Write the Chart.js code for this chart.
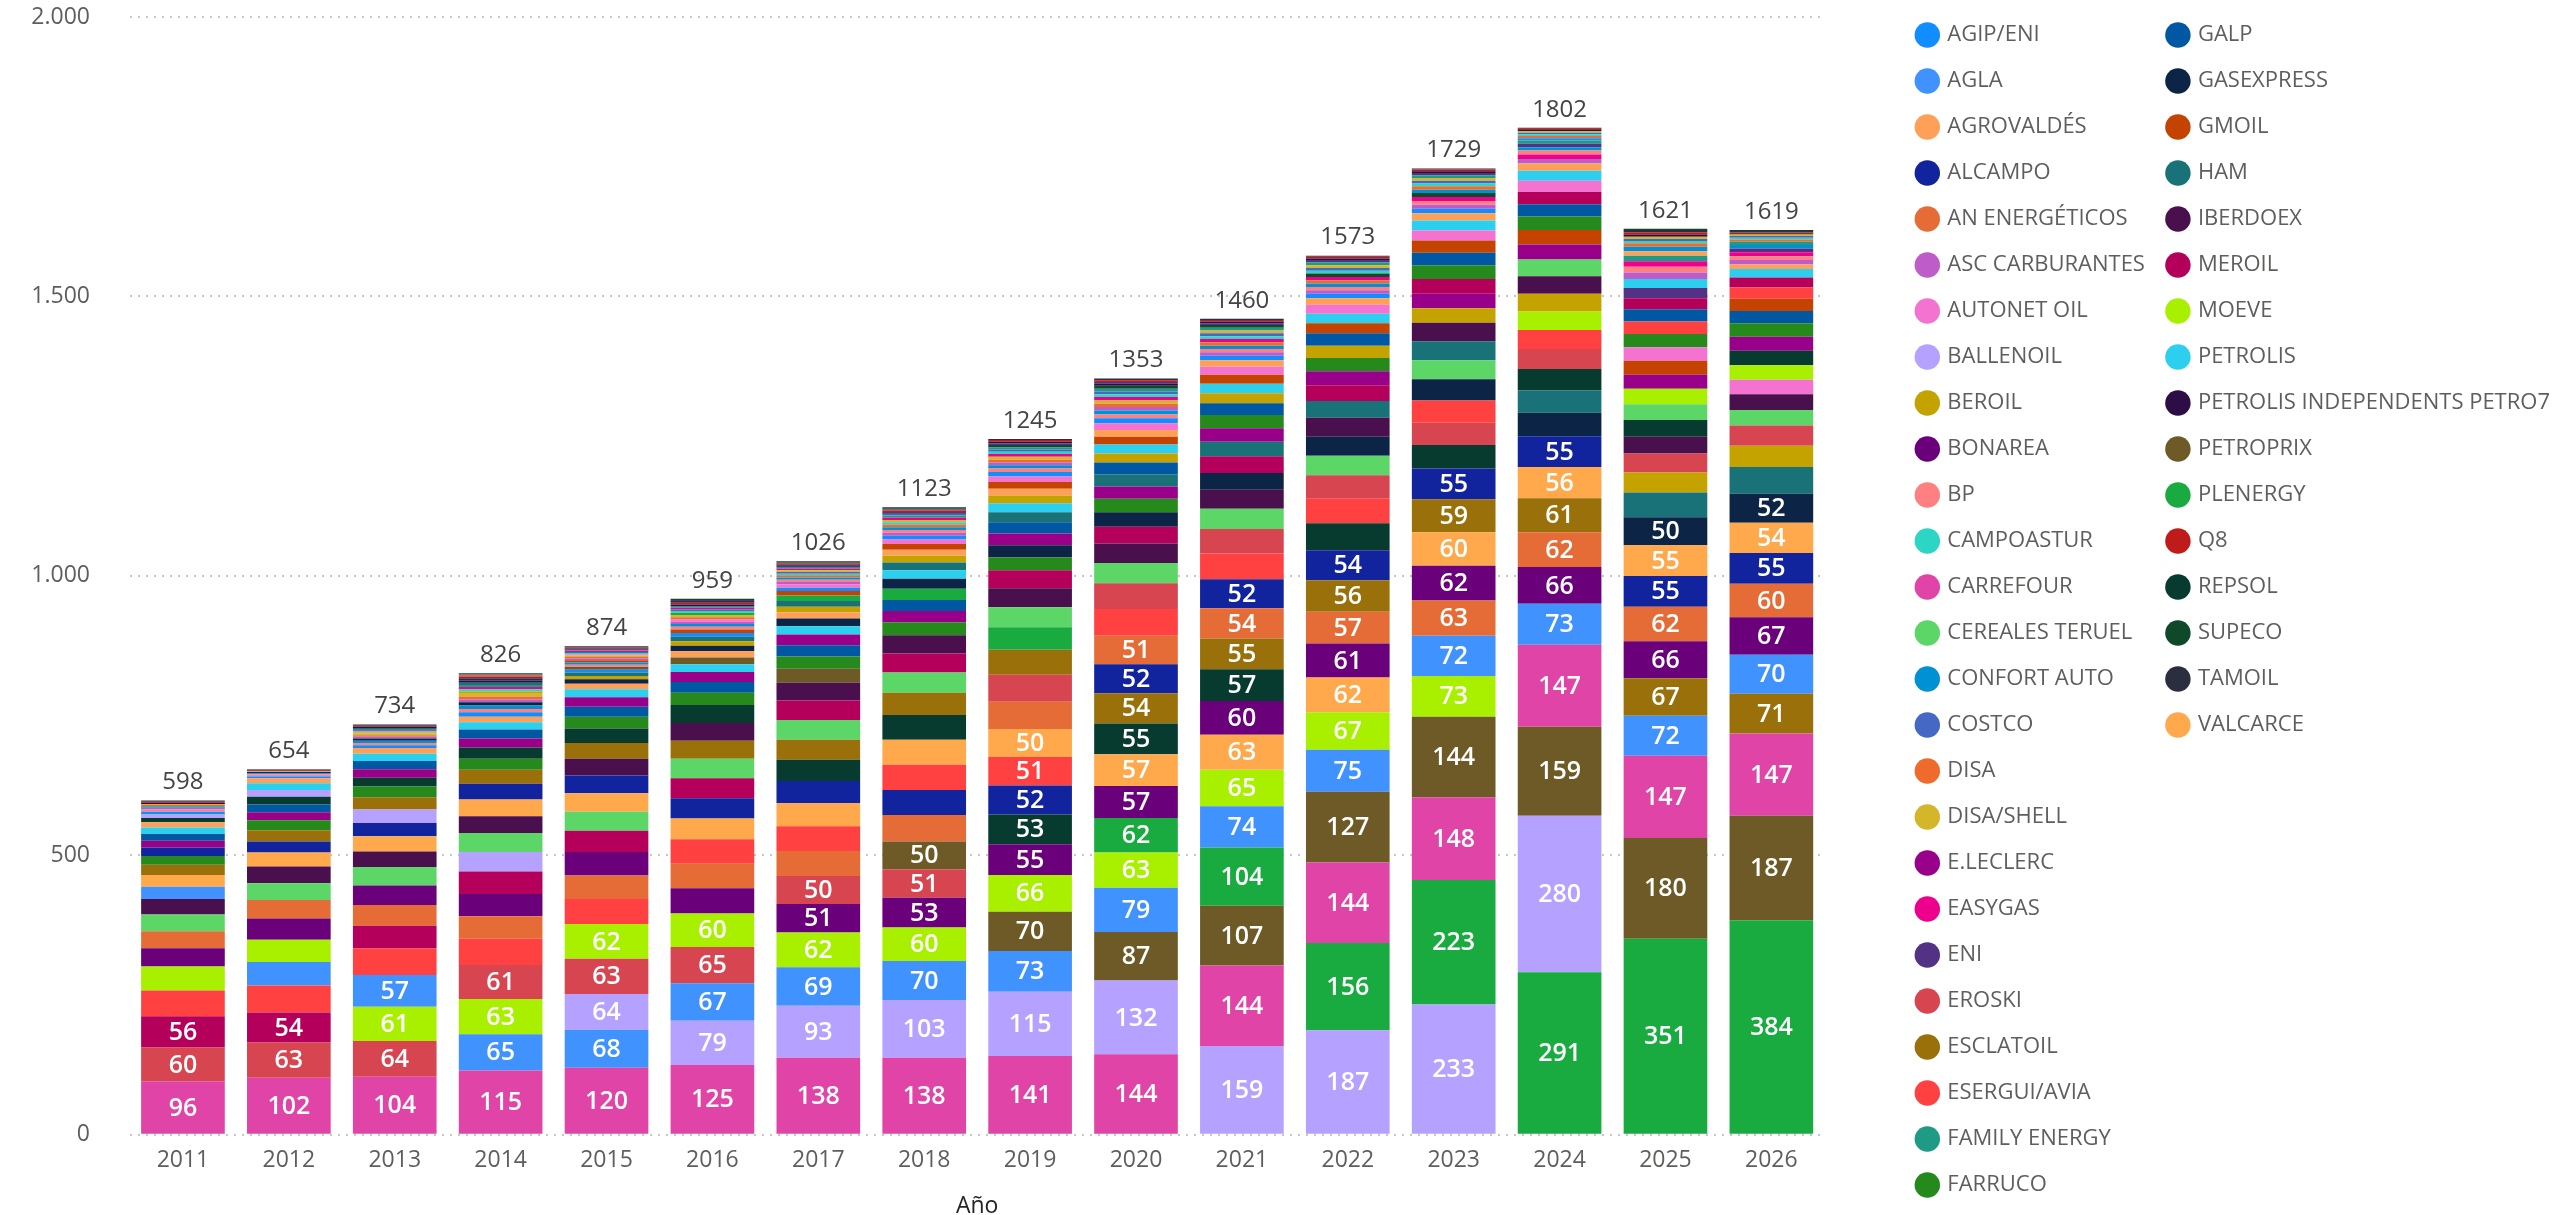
<!DOCTYPE html>
<html>
<head>
<meta charset="utf-8">
<script src="https://cdn.jsdelivr.net/npm/chart.js@4"></script>
<style>
  html, body { margin: 0; padding: 0; background: #fff; overflow: hidden; }
</style>
</head>
<body>
<canvas id="chart" width="2560" height="1250"></canvas>
<script>
"use strict";
const years = ['2011','2012','2013','2014','2015','2016','2017','2018','2019','2020','2021','2022','2023','2024','2025','2026'];

const brands = ['AGIP/ENI','AGLA','AGROVALDÉS','ALCAMPO','AN ENERGÉTICOS','ASC CARBURANTES','AUTONET OIL','BALLENOIL','BEROIL','BONAREA','BP','CAMPOASTUR','CARREFOUR','CEREALES TERUEL','CONFORT AUTO','COSTCO','DISA','DISA/SHELL','E.LECLERC','EASYGAS','ENI','EROSKI','ESCLATOIL','ESERGUI/AVIA','FAMILY ENERGY','FARRUCO','GALP','GASEXPRESS','GMOIL','HAM','IBERDOEX','MEROIL','MOEVE','PETROLIS','PETROLIS INDEPENDENTS PETRO7','PETROPRIX','PLENERGY','Q8','REPSOL','SUPECO','TAMOIL','VALCARCE'];

const brandColors = ['#118DFF','#4092FF','#FFA058','#12239E','#E66C37','#BE5DC9','#F472D0','#B5A1FF','#C4A200','#6B007B','#FF8080','#2CD5C4','#E044A7','#5BD667','#0091D5','#4668C5','#EF6B2B','#D4B62A','#99008A','#EC008C','#533285','#D64550','#99700A','#FF4141','#1F9A85','#25891C','#0057A2','#0C2445','#C44300','#197278','#4A0F4D','#B4005A','#A8F000','#2DCFEF','#2C0D46','#6E5A26','#1AAB40','#C01B1B','#073B30','#0E4A2A','#2A2E3F','#FFA84C'];

// stations per brand and year (2011..2026)
const agipEni        = [5,3,5,8,5,7,6,7,8,9,8,8,8,4,0,0];
const agla           = [22,42,57,65,68,67,69,70,73,79,74,75,72,73,72,70];
const agrovaldes     = [9,9,10,10,10,11,11,11,12,12,12,12,13,13,8,8];
const alcampo        = [15,20,24,28,32,36,40,45,52,52,52,54,55,55,55,55];
const anEnergeticos  = [30,33,37,40,42,44,45,47,49,51,54,57,63,62,62,60];
const ascCarburantes = [3,2,3,5,3,4,4,5,5,6,6,6,7,8,12,8];
const autonetOil     = [0,0,0,0,2,4,6,8,10,12,14,16,18,20,24,26];
const ballenoil      = [6,12,24,35,64,79,93,103,115,132,159,187,233,280,0,0];
const beroil         = [0,0,2,4,6,8,10,12,14,16,18,22,26,32,36,38];
const bonarea        = [33,38,35,40,42,45,51,53,55,57,60,61,62,66,66,67];
const bp             = [4,2,4,6,4,5,4,5,6,7,6,6,7,7,10,7];
const campoastur     = [0,0,2,4,2,3,3,4,4,5,5,5,5,3,4,3];
const carrefour      = [96,102,104,115,120,125,138,138,141,144,144,144,148,147,147,147];
const cerealesTeruel = [30,30,33,34,34,35,35,36,36,36,36,35,34,30,28,28];
const confortAuto    = [3,2,4,6,4,5,4,5,6,7,6,6,6,6,8,6];
const costco         = [0,0,0,2,2,3,3,3,4,5,5,5,5,3,4,3];
const disa           = [2,1,3,5,3,4,4,5,5,6,6,6,6,4,6,4];
const disaShell      = [2,1,3,5,3,4,3,4,5,6,5,5,5,3,4,3];
const eLeclerc       = [12,14,15,16,17,18,19,20,21,22,24,25,26,27,25,25];
const easygas        = [0,0,2,4,2,3,3,4,5,6,6,6,7,8,10,7];
const eni            = [0,0,0,0,0,2,2,2,3,3,3,4,4,6,18,7];
const eroski         = [60,63,64,61,63,65,50,51,48,46,44,42,40,36,34,36];
const esclatoil      = [18,20,22,25,28,32,36,40,45,54,55,56,59,61,67,71];
const esserguiAvia   = [46,48,48,47,45,44,44,45,51,48,46,44,40,34,22,20];
const familyEnergy   = [0,0,2,4,2,3,3,4,4,5,5,5,5,6,10,6];
const farruco        = [16,18,19,20,21,22,22,23,23,24,24,24,25,24,24,24];
const galp           = [12,14,15,16,18,19,20,20,20,21,21,22,22,22,22,22];
const gasexpress     = [0,2,4,6,8,10,14,18,22,26,30,34,38,42,50,52];
const gmoil          = [0,0,0,2,4,6,8,10,12,14,16,18,22,26,25,22];
const ham            = [0,0,2,4,6,8,10,14,18,22,26,30,34,40,44,48];
const iberdoex       = [28,30,28,30,30,32,32,33,34,35,34,34,33,31,30,28];
const meroil         = [56,54,40,40,38,36,35,34,32,30,30,28,26,22,20,18];
const moeve          = [43,40,61,63,62,60,62,60,66,63,65,67,73,33,28,26];
const petrolis       = [12,12,13,13,14,14,15,15,16,16,17,17,18,18,16,15];
const petro7         = [2,1,2,4,2,3,2,3,3,4,3,3,3,2,4,2];
const petroprix      = [0,0,0,0,5,12,25,50,70,87,107,127,144,159,180,187];
const plenergy       = [0,0,0,0,0,4,10,20,40,62,104,156,223,291,351,384];
const q8             = [2,1,2,3,2,3,2,3,3,3,3,3,3,2,4,2];
const repsol         = [8,14,16,20,26,32,38,44,53,55,57,48,42,38,30,26];
const supeco         = [0,0,0,2,0,2,2,2,4,5,5,6,7,0,2,2];
const tamoil         = [2,1,2,4,2,3,2,2,2,3,2,2,2,2,4,2];
const valcarce       = [21,25,27,30,33,37,41,45,50,57,63,62,60,56,55,54];

const series = [agipEni,agla,agrovaldes,alcampo,anEnergeticos,ascCarburantes,autonetOil,ballenoil,beroil,bonarea,bp,campoastur,carrefour,cerealesTeruel,confortAuto,costco,disa,disaShell,eLeclerc,easygas,eni,eroski,esclatoil,esserguiAvia,familyEnergy,farruco,galp,gasexpress,gmoil,ham,iberdoex,meroil,moeve,petrolis,petro7,petroprix,plenergy,q8,repsol,supeco,tamoil,valcarce];

const totals = years.map((_, y) => series.reduce((s, b) => s + b[y], 0));

// each year stacks its brands largest first, so build one dataset per rank
const ranked = years.map((_, y) =>
    series.map((b, i) => ({ v: b[y], c: brandColors[i] })).sort((a, b) => b.v - a.v));

const datasets = brands.map((_, k) => ({
    label: 'rank' + k,
    data: ranked.map(r => r[k].v),
    backgroundColor: ranked.map(r => r[k].c),
    borderWidth: 0,
    barPercentage: 0.79,
    categoryPercentage: 1
}));

const FONT = "'Open Sans', 'Noto Sans', sans-serif";
const fmt = v => v.toString().replace(/\B(?=(\d{3})+(?!\d))/g, '.');

const labelPlugin = {
    id: 'labels',
    afterInit(chart)
    {
        // the layout caps a side legend at a quarter of the width; let both columns fit
        const lg = chart.legend;
        const fit = lg.fit.bind(lg);
        lg.fit = function () { this.maxWidth = 760; fit(); };
    },
    afterDatasetsDraw(chart)
    {
        const ctx = chart.ctx;
        ctx.save();
        ctx.textAlign = 'center';
        ctx.textBaseline = 'middle';
        ctx.font = `600 25px ${FONT}`;
        ctx.fillStyle = '#fff';
        chart.data.datasets.forEach((ds, d) =>
        {
            chart.getDatasetMeta(d).data.forEach((bar, i) =>
            {
                if (ds.data[i] >= 50) ctx.fillText(ds.data[i], bar.x, (bar.y + bar.base) / 2 + 1);
            });
        });
        const ys = chart.scales.y;
        ctx.font = `24px ${FONT}`;
        ctx.fillStyle = '#444';
        ctx.textBaseline = 'bottom';
        chart.getDatasetMeta(0).data.forEach((bar, i) =>
            ctx.fillText(totals[i], bar.x, ys.getPixelForValue(totals[i]) - 6));
        ctx.restore();
    }
};

new Chart(document.getElementById('chart'), {
    type: 'bar',
    data: { labels: years, datasets },
    options: {
        responsive: false,
        animation: false,
        devicePixelRatio: 1,
        layout: { padding: 0 },
        scales: {
            x: {
                stacked: true,
                grid: { display: false },
                border: { display: false },
                ticks: { color: '#605E5C', font: { size: 23, family: FONT }, padding: 4 },
                title: { display: true, text: 'Año', color: '#252423', font: { size: 23, family: FONT }, padding: { top: 14, bottom: 30 } }
            },
            y: {
                stacked: true,
                min: 0,
                max: 2000,
                ticks: { stepSize: 500, color: '#605E5C', font: { size: 23, family: FONT }, padding: 40, callback: v => fmt(v) },
                grid: { color: '#C8C6C4', lineWidth: 2, drawTicks: false },
                border: { display: false, dash: [2, 6] },
                afterFit: s => { s.width = 130; s.paddingTop = 17; s.paddingBottom = 0; }
            },
            y2: {
                position: 'right',
                display: true,
                grid: { display: false },
                border: { display: false },
                ticks: { display: false },
                afterFit: s => { s.width = 70; s.paddingTop = 0; s.paddingBottom = 0; }
            }
        },
        plugins: {
            tooltip: { enabled: false },
            legend: {
                position: 'right',
                align: 'start',
                onClick: () => {},
                labels: {
                    usePointStyle: true,
                    pointStyle: 'circle',
                    boxWidth: 18,
                    boxHeight: 18,
                    padding: 24,
                    color: '#605E5C',
                    font: { size: 22, family: FONT },
                    generateLabels: () => brands.map((b, i) => ({
                        text: b,
                        fillStyle: brandColors[i],
                        strokeStyle: brandColors[i],
                        lineWidth: 0,
                        pointStyle: 'circle',
                        hidden: false,
                        fontColor: '#605E5C',
                        datasetIndex: i
                    }))
                }
            }
        }
    },
    plugins: [labelPlugin]
});
</script>
</body>
</html>
